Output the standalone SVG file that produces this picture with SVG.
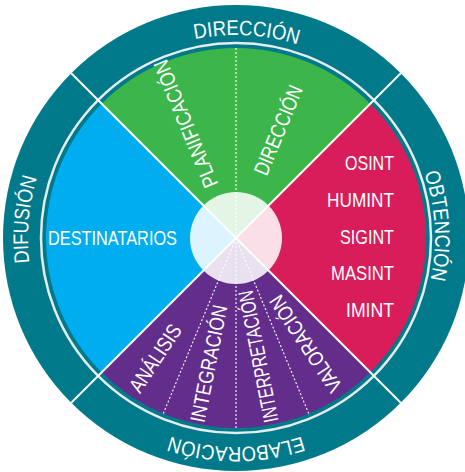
<svg xmlns="http://www.w3.org/2000/svg" width="465" height="472" viewBox="0 0 465 472">
<style>
.t{font-family:"Liberation Sans",Arial,sans-serif;fill:#fff;font-size:21px}
.ring{font-size:21px}
.div{stroke:#fff;stroke-width:2;fill:none}
.dash{stroke:#fff;stroke-width:1.1;stroke-dasharray:2 2;fill:none}
</style>
<defs>
<path id="pTop" d="M113.8,75.9 A203,203 0 0 1 374.4,89.5"/>
<path id="pRight" d="M380.4,101.0 A199,199 0 0 1 396.0,356.4"/>
<path id="pBottom" d="M370.3,398.1 A209,209 0 0 1 101.7,398.1"/>
<path id="pLeft" d="M65.6,357.3 A208,208 0 0 1 88.9,90.9"/>
</defs>
<rect width="465" height="472" fill="#fff"/>
<g id="ring">
<circle cx="236" cy="238" r="233" fill="#007a8b"/>
<circle cx="236" cy="238" r="195" fill="none" stroke="#e4ecee" stroke-width="2.5"/>
</g>
<g id="sector-direccion">
<path d="M236,238 L101.65,103.65 A190,190 0 0 1 370.35,103.65 Z" fill="#3cb54a"/>
</g>
<g id="sector-obtencion">
<path d="M236,238 L370.35,103.65 A190,190 0 0 1 370.35,372.35 Z" fill="#d81d5a"/>
</g>
<g id="sector-elaboracion">
<path d="M236,238 L370.35,372.35 A190,190 0 0 1 101.65,372.35 Z" fill="#632d8c"/>
</g>
<g id="sector-difusion">
<path d="M236,238 L101.65,372.35 A190,190 0 0 1 101.65,103.65 Z" fill="#00adee"/>
</g>
<g id="hub">
<circle cx="236" cy="238" r="46" fill="#fff" fill-opacity="0.86"/>
</g>
<g id="connectors">
<line class="div" x1="71.25" y1="73.25" x2="400.75" y2="402.75"/>
<line class="div" x1="400.75" y1="73.25" x2="71.25" y2="402.75"/>
<line class="dash" x1="236" y1="238" x2="236" y2="48"/>
<line class="dash" x1="236" y1="238" x2="236" y2="428"/>
<line class="dash" x1="236" y1="238" x2="308.7" y2="413.5"/>
<line class="dash" x1="236" y1="238" x2="163.3" y2="413.5"/>
</g>
<g id="label-direccion-ring">
<text class="t ring"><textPath href="#pTop" startOffset="50%" text-anchor="middle" textLength="104" lengthAdjust="spacingAndGlyphs">DIRECCIÓN</textPath></text>
</g>
<g id="label-obtencion-ring">
<text class="t ring"><textPath href="#pRight" startOffset="50%" text-anchor="middle" textLength="108" lengthAdjust="spacingAndGlyphs">OBTENCIÓN</textPath></text>
</g>
<g id="label-elaboracion-ring">
<text class="t ring"><textPath href="#pBottom" startOffset="50%" text-anchor="middle" textLength="134" lengthAdjust="spacingAndGlyphs">ELABORACIÓN</textPath></text>
</g>
<g id="label-difusion-ring">
<text class="t ring"><textPath href="#pLeft" startOffset="50%" text-anchor="middle" textLength="86" lengthAdjust="spacingAndGlyphs">DIFUSIÓN</textPath></text>
</g>
<g id="planificacion">
<text class="t" transform="translate(185.5,124) rotate(-112.5)" text-anchor="middle" dy="0.36em" textLength="136" lengthAdjust="spacingAndGlyphs">PLANIFICACIÓN</text>
</g>
<g id="direccion">
<text class="t" transform="translate(278,130) rotate(-67.5)" text-anchor="middle" dy="0.36em" textLength="95" lengthAdjust="spacingAndGlyphs">DIRECCIÓN</text>
</g>
<g id="analisis">
<text class="t" transform="translate(155,358) rotate(-56.25)" text-anchor="middle" dy="0.36em" textLength="77" lengthAdjust="spacingAndGlyphs">ANÁLISIS</text>
</g>
<g id="integracion">
<text class="t" transform="translate(208.5,363.5) rotate(-78.75)" text-anchor="middle" dy="0.36em" textLength="119" lengthAdjust="spacingAndGlyphs">INTEGRACIÓN</text>
</g>
<g id="interpretacion">
<text class="t" transform="translate(258,356.5) rotate(-101.25)" text-anchor="middle" dy="0.36em" textLength="134" lengthAdjust="spacingAndGlyphs">INTERPRETACIÓN</text>
</g>
<g id="valoracion">
<text class="t" transform="translate(305.5,344) rotate(-123.75)" text-anchor="middle" dy="0.36em" textLength="112" lengthAdjust="spacingAndGlyphs">VALORACIÓN</text>
</g>
<g id="destinatarios">
<text class="t" x="48" y="245" font-size="21" textLength="129" lengthAdjust="spacingAndGlyphs">DESTINATARIOS</text>
</g>
<g id="disciplinas">
<text class="t" x="394" y="170" font-size="22" text-anchor="end" textLength="49" lengthAdjust="spacingAndGlyphs">OSINT</text>
<text class="t" x="394" y="207" font-size="22" text-anchor="end" textLength="67" lengthAdjust="spacingAndGlyphs">HUMINT</text>
<text class="t" x="394" y="244" font-size="22" text-anchor="end" textLength="54" lengthAdjust="spacingAndGlyphs">SIGINT</text>
<text class="t" x="394" y="280" font-size="22" text-anchor="end" textLength="63" lengthAdjust="spacingAndGlyphs">MASINT</text>
<text class="t" x="394" y="317" font-size="22" text-anchor="end" textLength="48" lengthAdjust="spacingAndGlyphs">IMINT</text>
</g>
</svg>
